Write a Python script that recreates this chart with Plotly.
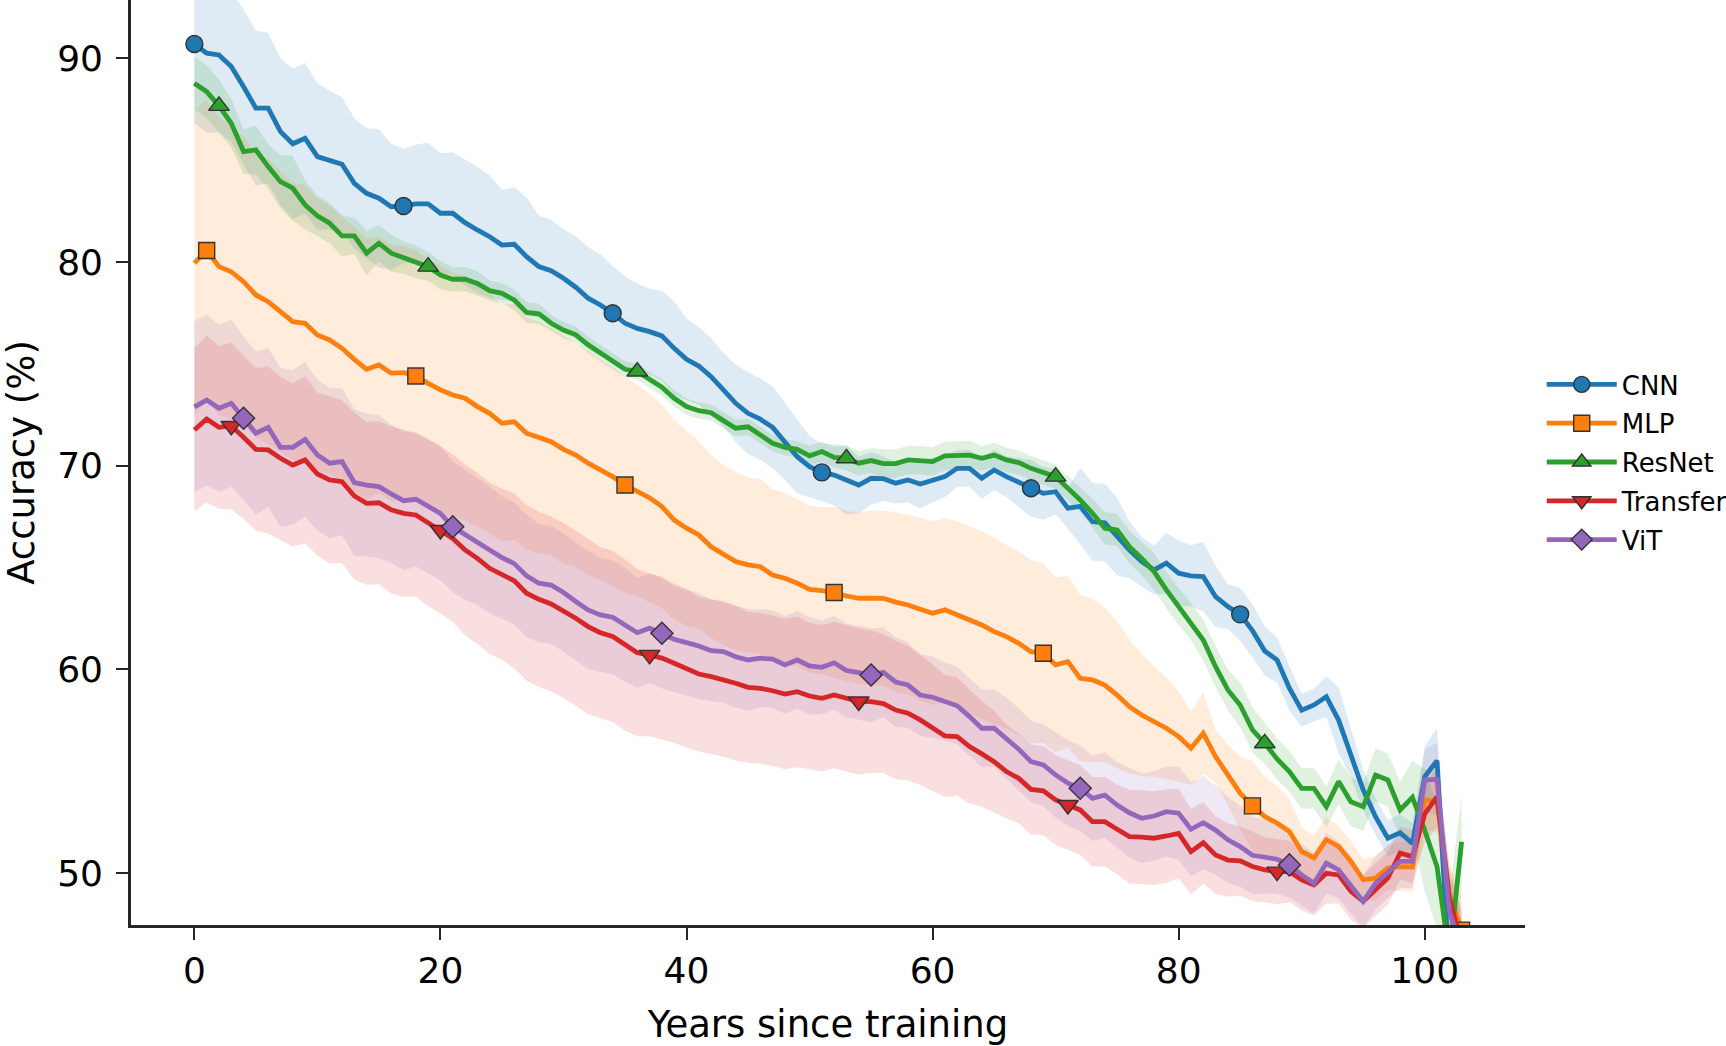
import plotly.graph_objects as go

years = list(range(104))

series_names = ["CNN", "MLP", "ResNet", "Transfer", "ViT"]

cnn = [90.70, 90.25, 90.16, 89.59, 88.60, 87.55, 87.55, 86.40, 85.80, 86.07,
       85.17, 85.00, 84.80, 83.86, 83.37, 83.13, 82.71, 82.75, 82.85, 82.85,
       82.39, 82.39, 81.93, 81.57, 81.24, 80.83, 80.87, 80.26, 79.77, 79.57,
       79.20, 78.76, 78.22, 77.89, 77.48, 76.99, 76.74, 76.58, 76.37, 75.76,
       75.22, 74.89, 74.37, 73.72, 73.06, 72.57, 72.28, 71.88, 71.18, 70.44,
       69.95, 69.67, 69.54, 69.30, 69.05, 69.38, 69.36, 69.14, 69.30, 69.10,
       69.30, 69.46, 69.87, 69.87, 69.38, 69.79, 69.46, 69.17, 68.89, 68.64,
       68.72, 67.91, 68.00, 67.25, 67.20, 66.51, 65.86, 65.29, 64.88, 65.21,
       64.72, 64.59, 64.55, 63.57, 63.08, 62.70, 61.90, 60.90, 60.46, 59.07,
       58.00, 58.25, 58.66, 57.51, 55.88, 54.08, 52.77, 51.71, 51.98, 51.46,
       54.73, 55.52, 45.20, 44.00]

mlp = [79.94, 80.56, 79.77, 79.52, 79.03, 78.38, 78.05, 77.56, 77.07, 76.99,
       76.42, 76.17, 75.76, 75.22, 74.73, 74.94, 74.54, 74.57, 74.40, 74.04,
       73.72, 73.47, 73.31, 72.90, 72.57, 72.08, 72.16, 71.59, 71.39, 71.18,
       70.80, 70.52, 70.12, 69.79, 69.46, 69.05, 68.76, 68.42, 67.99, 67.33,
       66.93, 66.60, 66.02, 65.62, 65.29, 65.13, 65.04, 64.63, 64.47, 64.23,
       63.93, 63.86, 63.77, 63.60, 63.49, 63.50, 63.49, 63.30, 63.16, 62.95,
       62.75, 62.92, 62.67, 62.43, 62.18, 61.85, 61.61, 61.28, 60.87, 60.79,
       60.22, 60.38, 59.56, 59.48, 59.23, 58.74, 58.17, 57.76, 57.43, 57.11,
       56.70, 56.13, 56.86, 55.72, 54.82, 53.92, 53.30, 52.77, 52.45, 52.04,
       51.06, 50.74, 51.64, 51.31, 50.57, 49.67, 49.75, 50.25, 50.32, 50.30,
       53.60, 53.50, 49.00, 47.20]

resnet = [88.77, 88.36, 87.66, 86.81, 85.42, 85.50, 84.68, 83.94, 83.62, 82.80,
          82.26, 81.90, 81.28, 81.28, 80.43, 80.92, 80.43, 80.21, 80.01, 79.77,
          79.36, 79.15, 79.15, 78.95, 78.59, 78.46, 78.13, 77.52, 77.45, 76.99,
          76.66, 76.42, 75.93, 75.52, 75.11, 74.73, 74.62, 74.21, 73.85, 73.31,
          72.90, 72.70, 72.60, 72.21, 71.84, 71.91, 71.51, 71.10, 70.90, 70.80,
          70.48, 70.69, 70.41, 70.36, 70.12, 70.25, 70.10, 70.10, 70.28, 70.26,
          70.20, 70.48, 70.49, 70.52, 70.36, 70.52, 70.28, 70.15, 69.87, 69.66,
          69.46, 68.89, 68.32, 67.66, 66.93, 66.84, 66.02, 65.45, 64.80, 63.90,
          63.08, 62.34, 61.44, 60.13, 58.99, 58.25, 57.03, 56.37, 55.60, 54.98,
          54.16, 54.16, 53.26, 54.49, 53.50, 53.26, 54.81, 54.57, 53.10, 53.72,
          52.10, 50.31, 45.90, 51.54]

transfer = [71.75, 72.29, 71.88, 71.95, 71.39, 70.80, 70.77, 70.36, 70.03, 70.28,
            69.59, 69.30, 69.21, 68.51, 68.15, 68.18, 67.83, 67.66, 67.58, 67.20,
            66.84, 66.43, 65.86, 65.45, 64.96, 64.67, 64.35, 63.74, 63.44, 63.21,
            62.89, 62.51, 62.10, 61.80, 61.61, 61.20, 60.82, 60.71, 60.55, 60.30,
            60.05, 59.77, 59.64, 59.51, 59.32, 59.12, 59.07, 58.95, 58.79, 58.90,
            58.69, 58.58, 58.74, 58.58, 58.42, 58.42, 58.32, 58.00, 57.85, 57.52,
            57.11, 56.73, 56.70, 56.21, 55.85, 55.47, 54.98, 54.65, 54.11, 54.04,
            53.59, 53.34, 53.10, 52.52, 52.52, 52.15, 51.79, 51.76, 51.71, 51.82,
            51.95, 51.05, 51.49, 50.89, 50.64, 50.60, 50.32, 50.16, 50.07, 50.07,
            49.67, 49.42, 49.99, 49.91, 49.10, 48.61, 49.18, 49.75, 50.98, 50.81,
            52.90, 53.75, 48.80, 46.50]

vit = [72.89, 73.22, 72.82, 73.06, 72.33, 71.59, 71.88, 70.90, 70.90, 71.29,
       70.52, 70.12, 70.20, 69.17, 69.05, 68.97, 68.61, 68.28, 68.35, 67.99,
       67.66, 67.00, 66.60, 66.27, 65.86, 65.49, 65.19, 64.59, 64.23, 64.14,
       63.77, 63.33, 62.92, 62.67, 62.56, 62.18, 61.80, 62.02, 61.77, 61.48,
       61.31, 61.15, 60.92, 60.87, 60.62, 60.46, 60.55, 60.50, 60.22, 60.46,
       60.17, 60.10, 60.32, 59.94, 59.84, 59.72, 59.85, 59.38, 59.23, 58.74,
       58.63, 58.42, 58.21, 57.68, 57.11, 57.11, 56.62, 56.08, 55.47, 55.31,
       54.82, 54.41, 54.16, 53.67, 53.83, 53.34, 52.96, 52.69, 52.80, 53.01,
       52.94, 52.15, 52.47, 52.11, 51.63, 51.30, 50.87, 50.80, 50.68, 50.40,
       49.91, 49.50, 50.48, 50.16, 49.42, 48.61, 49.50, 50.07, 50.57, 50.57,
       54.57, 54.60, 48.10, 46.40]

# spread (half-width of the shaded band) per year
cnn_sd = [3.9, 3.9, 3.8, 3.7, 3.8, 3.8, 3.7, 3.6, 3.7, 3.7, 3.6, 3.4, 3.3,
          3.2, 3.2, 3.4, 3.1, 2.8, 2.9, 3.0, 2.95, 3.0, 3.1, 3.1, 3.0, 2.7, 2.8, 2.9,
          2.5, 2.5, 2.4, 2.5, 2.5, 2.5, 2.3, 2.3, 2.2, 2.1, 2.2, 2.3, 2.0,
          1.9, 1.9, 1.8, 1.9, 2.0, 2.0, 2.0, 1.9, 1.8, 1.5,
          1.4, 1.5, 1.7, 1.4, 1.3, 1.1, 1.0, 1.1, 1.2, 1.1, 1.0, 0.9, 0.9, 1.0, 1.0, 1.0, 1.2, 1.4, 1.3, 1.1,
          1.0, 1.9, 1.9, 1.9, 1.9, 1.4, 1.2, 1.2, 1.5, 1.6, 1.5, 1.7, 1.5, 1.1,
          1.3, 1.3, 1.2, 1.1, 1.1, 0.8, 0.8, 1.0, 1.6, 1.2, 1.0, 0.9, 0.9, 0.9, 1.0, 1.5, 1.6, 1.8, 1.8]

mlp_sd = [7.5, 7.4, 7.3, 7.2, 7.1, 7.0, 7.0, 6.9, 6.8, 6.8, 6.7, 6.6, 6.5, 6.5, 6.4, 6.3, 6.3, 6.2, 6.2, 6.1,
          6.1, 6.0, 6.0, 5.9, 5.9, 5.8, 5.8, 5.7, 5.7, 5.6, 5.6, 5.5, 5.5, 5.4, 5.4, 5.3, 5.2, 5.1, 5.0, 4.9,
          4.8, 4.6, 4.5, 4.4, 4.4, 4.3, 4.3, 4.2, 4.2, 4.1, 4.1, 4.1, 4.2, 4.2, 4.2, 4.3, 4.3, 4.4, 4.4, 4.5,
          4.5, 4.5, 4.6, 4.6, 4.6, 4.6, 4.5, 4.5, 4.5, 4.4, 4.3, 4.2, 4.1, 4.0, 3.8, 3.6, 3.3, 3.0, 2.7, 2.5,
          2.2, 1.8, 2.0, 1.3, 1.5, 1.8, 2.2, 2.0, 1.8, 1.6, 1.2, 1.1, 1.1, 1.0, 1.0, 1.0, 1.1, 1.1, 1.2, 1.2,
          1.5, 1.5, 1.5, 1.5]

resnet_sd = [1.3, 1.3, 1.3, 1.2, 1.1, 1.2, 1.1, 1.3, 1.6, 1.2, 1.0, 1.0, 1.0, 0.9, 1.1, 0.9,
             0.9, 0.8, 0.8, 0.7, 0.7, 0.6, 0.6, 0.6, 0.5, 0.5, 0.5, 0.5, 0.5, 0.4, 0.4, 0.4, 0.4, 0.4, 0.4, 0.4,
             0.4, 0.4, 0.4, 0.4, 0.4, 0.4, 0.4, 0.4, 0.4, 0.4, 0.4, 0.4, 0.4, 0.4, 0.5, 0.5, 0.5, 0.6, 0.6, 0.6,
             0.7, 0.7, 0.7, 0.7, 0.7, 0.7, 0.7, 0.7, 0.6, 0.6, 0.6, 0.6, 0.6, 0.6, 0.6, 0.6, 0.6, 0.7, 0.8, 0.8,
             0.8, 0.8, 0.9, 0.9, 0.9, 0.9, 1.0, 1.0, 1.0, 1.1, 1.1, 1.0, 1.0, 1.0, 1.0, 1.0, 1.0, 1.1, 1.2, 1.2,
             1.3, 1.3, 1.4, 1.8, 3.0, 3.0, 3.0, 2.3]

transfer_sd = [4.0, 4.1, 4.0, 4.1, 4.0, 4.0, 4.1, 4.0, 4.0, 4.1, 4.0, 4.1, 4.0, 4.1, 4.0, 4.0, 4.1, 4.1, 4.0, 4.1,
               4.1, 4.1, 4.2, 4.2, 4.2, 4.2, 4.3, 4.3, 4.3, 4.3, 4.3, 4.3, 4.3, 4.2, 4.2, 4.2, 4.1, 4.0, 4.0, 3.9,
               3.9, 3.8, 3.8, 3.8, 3.8, 3.7, 3.7, 3.7, 3.7, 3.7, 3.6, 3.6, 3.6, 3.6, 3.6, 3.5, 3.4, 3.4, 3.3, 3.2,
               3.1, 3.0, 2.9, 2.8, 2.6, 2.5, 2.3, 2.2, 2.2, 2.2, 2.2, 2.2, 2.2, 2.2, 2.2, 2.2, 2.3, 2.3, 2.3, 2.3,
               2.2, 2.1, 2.0, 1.9, 1.8, 1.7, 1.7, 1.6, 1.6, 1.5, 1.5, 1.5, 1.5, 1.4, 1.4, 1.3, 1.3, 1.3, 1.3, 1.3,
               1.4, 1.5, 1.5, 1.5]

vit_sd = [4.2, 4.2, 4.1, 4.1, 4.0, 4.0, 3.9, 3.9, 3.8, 3.8, 3.7, 3.7, 3.6, 3.6, 3.5, 3.5, 3.4, 3.4, 3.3, 3.3,
          3.3, 3.2, 3.2, 3.1, 3.1, 3.0, 3.0, 3.0, 2.9, 2.9, 2.9, 2.9, 2.9, 2.8, 2.8, 2.8, 2.7, 2.7, 2.7, 2.6,
          2.6, 2.6, 2.5, 2.5, 2.5, 2.5, 2.4, 2.4, 2.4, 2.4, 2.4, 2.3, 2.3, 2.3, 2.3, 2.3, 2.2, 2.2, 2.1, 2.0,
          2.0, 1.9, 1.9, 1.9, 1.9, 1.9, 2.0, 2.0, 2.0, 2.0, 2.1, 2.1, 2.1, 2.1, 2.1, 2.1, 2.2, 2.2, 2.2, 2.2,
          2.3, 2.3, 2.3, 2.2, 2.1, 2.0, 1.9, 1.8, 1.7, 1.6, 1.5, 1.5, 1.5, 1.4, 1.4, 1.3, 1.3, 1.3, 1.3, 1.3,
          1.5, 1.8, 1.8, 1.8]

means = [cnn, mlp, resnet, transfer, vit]
spreads = [cnn_sd, mlp_sd, resnet_sd, transfer_sd, vit_sd]

colors = ["#1f77b4", "#ff7f0e", "#2ca02c", "#d62728", "#9467bd"]
fills = ["rgba(31,119,180,0.15)", "rgba(255,127,14,0.15)", "rgba(44,160,44,0.15)",
         "rgba(214,39,40,0.15)", "rgba(148,103,189,0.15)"]
symbols = ["circle", "square", "triangle-up", "triangle-down", "diamond"]
msizes = [17, 16, 18, 18, 17]
MARK_EVERY = 17

FONT = "DejaVu Sans"
AXC = "#262626"
LW = 4.8

fig = go.Figure()

# shaded bands first
for m, s, fc in zip(means, spreads, fills):
    upper = [a + b for a, b in zip(m, s)]
    lower = [a - b for a, b in zip(m, s)]
    fig.add_trace(go.Scatter(x=years, y=upper, mode="lines", line=dict(width=0),
                             showlegend=False, hoverinfo="skip"))
    fig.add_trace(go.Scatter(x=years, y=lower, mode="lines", line=dict(width=0),
                             fill="tonexty", fillcolor=fc,
                             showlegend=False, hoverinfo="skip"))

# lines and markers
for i, (name, m, c, sym, ms) in enumerate(zip(series_names, means, colors, symbols, msizes)):
    fig.add_trace(go.Scatter(x=years, y=m, mode="lines",
                             line=dict(color=c, width=LW),
                             showlegend=False, hoverinfo="skip"))
    fig.add_trace(go.Scatter(x=years[i::MARK_EVERY], y=m[i::MARK_EVERY], mode="markers",
                             marker=dict(symbol=sym, size=ms, color=c,
                                         line=dict(color="#333333", width=1.4)),
                             showlegend=False, hoverinfo="skip"))
    # legend entry
    fig.add_trace(go.Scatter(x=[None], y=[None], mode="lines+markers", name=name,
                             legendgroup=name,
                             line=dict(color=c, width=LW),
                             marker=dict(symbol=sym, size=ms, color=c,
                                         line=dict(color="#333333", width=1.4))))

fig.update_layout(
    width=1726, height=1046,
    margin=dict(l=131, r=201, t=0, b=121, autoexpand=False),
    paper_bgcolor="white", plot_bgcolor="white",
    font=dict(family=FONT, size=36, color="black"),
    legend=dict(x=1.012, xanchor="left", y=0.5, yanchor="middle",
                font=dict(family=FONT, size=26, color="black"),
                tracegroupgap=2, bgcolor="rgba(0,0,0,0)",
                itemwidth=70),
    showlegend=True,
)

fig.update_xaxes(
    range=[-5.15, 108.15],
    tickmode="array", tickvals=[0, 20, 40, 60, 80, 100],
    ticks="outside", ticklen=12, tickwidth=2.4, tickcolor=AXC,
    showline=True, linecolor=AXC, linewidth=2.6,
    showgrid=False, zeroline=False,
    tickfont=dict(family=FONT, size=36, color="black"),
    title=dict(text="Years since training", font=dict(family=FONT, size=37, color="black"),
               standoff=26),
)
fig.update_yaxes(
    range=[47.45, 92.86],
    tickmode="array", tickvals=[50, 60, 70, 80, 90],
    ticks="outside", ticklen=12, tickwidth=2.4, tickcolor=AXC,
    showline=True, linecolor=AXC, linewidth=2.6,
    showgrid=False, zeroline=False,
    ticklabelstandoff=6,
    tickfont=dict(family=FONT, size=36, color="black"),
    title=dict(text="Accuracy (%)", font=dict(family=FONT, size=37, color="black"),
               standoff=34),
)

fig.write_html("out.html")
